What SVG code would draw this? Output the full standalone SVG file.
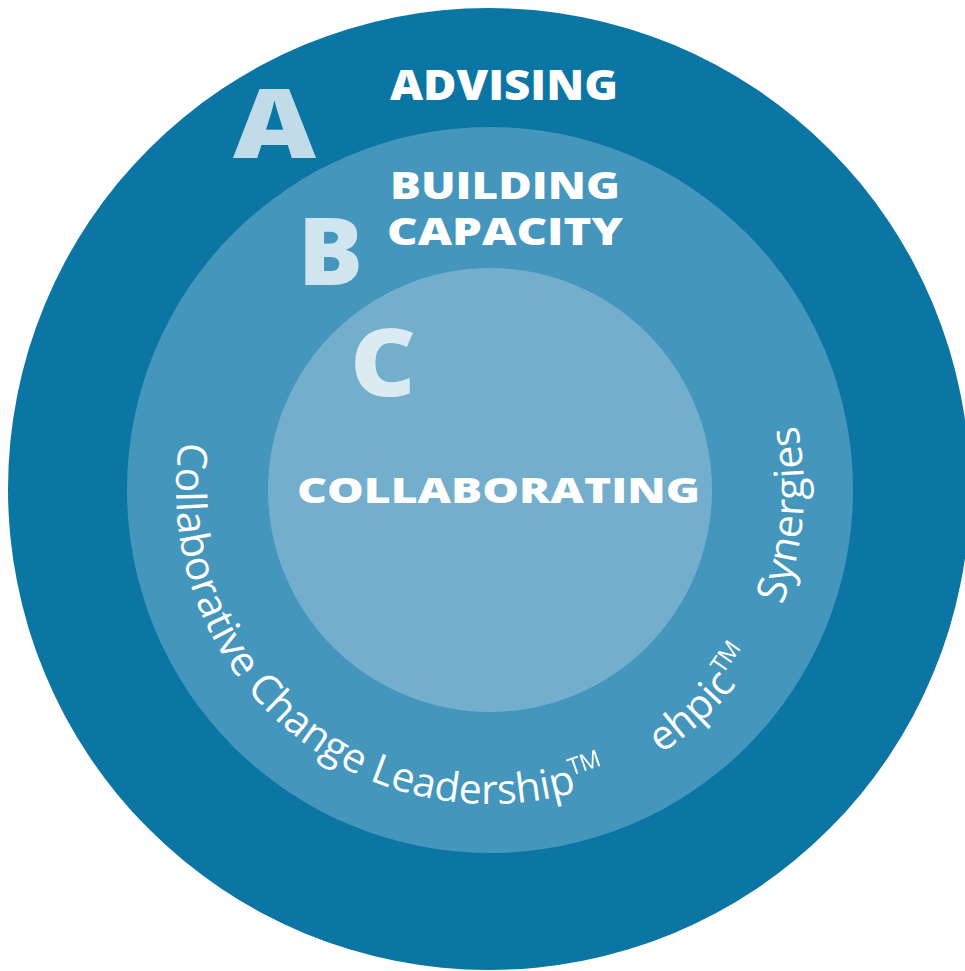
<svg xmlns="http://www.w3.org/2000/svg" xmlns:xlink="http://www.w3.org/1999/xlink" width="965" height="971" viewBox="0 0 965 971">
  <style>
    .bold { font-family: "Open Sans", "Liberation Sans", sans-serif; font-weight: 800; fill: #ffffff; }
    .big { font-family: "Open Sans", "Liberation Sans", sans-serif; font-weight: 800; fill: #ffffff; fill-opacity: 0.75; }
    .arc { font-family: "Open Sans", "Liberation Sans", sans-serif; font-weight: 400; font-size: 41px; fill: #ffffff; }
    .tm { font-size: 48px; font-weight: 300; }
  </style>
  <defs>
    <path id="ring" d="M194.9,382.6 A314,314 0 1 0 730.5,288.2"/>
  </defs>
  <rect width="965" height="971" fill="#ffffff"/>
  <g id="advising">
    <circle cx="489" cy="489" r="481" fill="#0B76A4"/>
    <text class="big" x="233" y="158" font-size="95" textLength="83" lengthAdjust="spacingAndGlyphs">A</text>
    <text class="bold" x="390" y="100" font-size="42" textLength="228" lengthAdjust="spacingAndGlyphs">ADVISING</text>
  </g>
  <g id="building-capacity">
    <circle cx="490" cy="490" r="363" fill="#4496BD"/>
    <text class="big" x="298" y="285" font-size="94" textLength="65" lengthAdjust="spacingAndGlyphs">B</text>
    <text class="bold" x="390" y="199" font-size="37" textLength="230" lengthAdjust="spacingAndGlyphs">BUILDING</text>
    <text class="bold" x="387" y="245" font-size="37" textLength="236" lengthAdjust="spacingAndGlyphs">CAPACITY</text>
    <text class="arc"><textPath xlink:href="#ring" href="#ring" startOffset="61">Collaborative Change Leadership<tspan class="tm">™</tspan></textPath></text>
    <text class="arc"><textPath xlink:href="#ring" href="#ring" startOffset="783">ehpic<tspan class="tm">™</tspan></textPath></text>
    <text class="arc"><textPath xlink:href="#ring" href="#ring" startOffset="978">Synergies</textPath></text>
  </g>
  <g id="collaborating">
    <circle cx="490" cy="490" r="222" fill="#73AFCC"/>
    <text class="big" x="350" y="396" font-size="94" textLength="66" lengthAdjust="spacingAndGlyphs">C</text>
    <text class="bold" x="297" y="503" font-size="35" textLength="403" lengthAdjust="spacingAndGlyphs">COLLABORATING</text>
  </g>
  <g id="connectors"/>
</svg>
